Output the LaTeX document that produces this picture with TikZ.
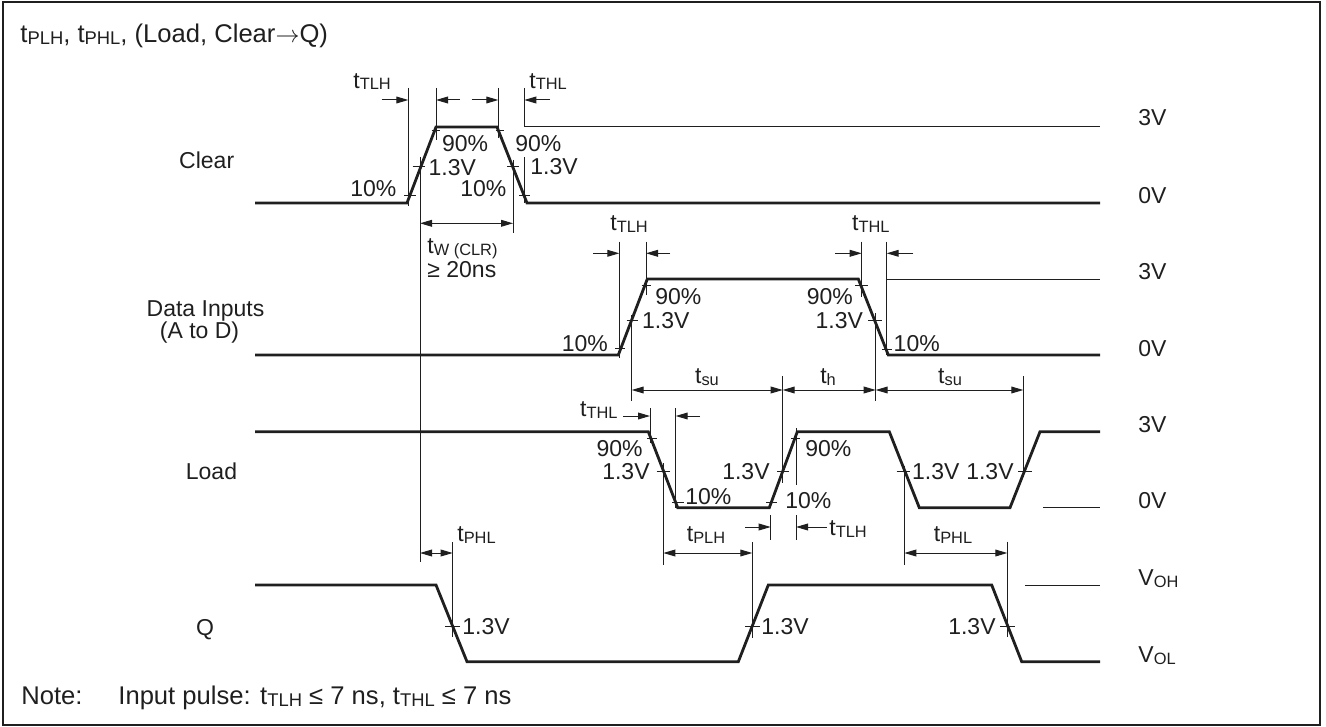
\documentclass[tikz,border=0pt]{standalone}
\usepackage{fontspec}
\setmainfont{Liberation Sans}
\usetikzlibrary{arrows.meta}
\definecolor{ink}{gray}{0.12}
\newcommand{\sbx}[1]{\raisebox{-0.9pt}{\fontsize{8.2}{9}\selectfont #1}}
\newcommand{\sbxb}[1]{\raisebox{-1pt}{\fontsize{9.2}{10}\selectfont #1}}
\begin{document}
\begin{tikzpicture}[x=0.5pt,y=-0.5pt,
  sig/.style={draw=ink,line width=1.4pt,line join=miter},
  ref/.style={draw=ink,line width=0.5pt},
  arr/.style={draw=ink,line width=0.5pt,-{Triangle[length=6pt,width=3.4pt]}},
  dbl/.style={draw=ink,line width=0.5pt,{Triangle[length=6pt,width=3.4pt]}-{Triangle[length=6pt,width=3.4pt]}},
  lbl/.style={inner sep=0pt,text=ink,font=\fontsize{11.5}{13.8}\selectfont,text height=8.2pt,text depth=0pt},
  big/.style={inner sep=0pt,text=ink,font=\fontsize{12.8}{15}\selectfont,text height=9.2pt,text depth=0pt},
]
\useasboundingbox (0,0) rectangle (1326,727);
\draw[ink,line width=1pt] (2.5,2.5) rectangle (1320,724.5);

% title and note
\node[big,anchor=west] (title) at (20,33) {t\sbxb{PLH}, t\sbxb{PHL}, (Load, Clear\(\rightarrow\)Q)};
\node[big,anchor=west] (note) at (21,695) {Note:};
\node[big,anchor=west] (notetxt) at (118,695) {Input pulse: t\sbxb{TLH} ≤ 7 ns, t\sbxb{THL} ≤ 7 ns};

% signal names
\node[lbl] (nclear) at (206.7,160) {Clear};
\node[lbl] (ndata) at (205.5,308) {Data Inputs};
\node[lbl] (ndata2) at (199.5,330) {(A to D)};
\node[lbl] (nload) at (211.5,471.7) {Load};
\node[lbl] (nq) at (205,627) {Q};

% level labels
\node[lbl,anchor=west] (l1) at (1138,117.5) {3V};
\node[lbl,anchor=west] (l2) at (1138,195) {0V};
\node[lbl,anchor=west] (l3) at (1138,271) {3V};
\node[lbl,anchor=west] (l4) at (1138,348) {0V};
\node[lbl,anchor=west] (l5) at (1138,424) {3V};
\node[lbl,anchor=west] (l6) at (1138,500) {0V};
\node[lbl,anchor=west] (l7) at (1138,577) {V\sbx{OH}};
\node[lbl,anchor=west] (l8) at (1138,654) {V\sbx{OL}};

%%%%%%%% CLEAR
\draw[sig] (255,203) -- (407,203) -- (436,127) -- (497,127) -- (527,203) -- (1100,203);
\draw[ref] (524.3,88) -- (524.3,127) -- (1100,127);
\draw[ref] (408.3,88) -- (408.3,206);
\draw[ref] (436,88) -- (436,140);
\draw[ref] (420,157) -- (420,562);
\draw[ref] (498.3,88) -- (498.3,138);
\draw[ref] (513,160) -- (513,233);
\draw[ref] (524,157) -- (524,203);
\draw[ref] (404,196) -- (416,196);
\draw[ref] (412.7,167) -- (425,167);
\draw[ref] (431.7,131) -- (440,131);
\draw[ref] (495.7,131) -- (504,131);
\draw[ref] (507,167) -- (519,167);
\draw[ref] (519,196) -- (530,196);
\draw[arr] (381.7,100) -- (408.3,100);
\draw[arr] (460,100) -- (436,100);
\draw[arr] (471.7,100) -- (498.3,100);
\draw[arr] (550,100) -- (524.3,100);
\node[lbl,anchor=west] at (353,80) {t\sbx{TLH}};
\node[lbl,anchor=west] at (529,80) {t\sbx{THL}};
\node[lbl,anchor=east] at (396.7,188.3) {10\%};
\node[lbl,anchor=west] at (428.3,167) {1.3V};
\node[lbl,anchor=west] at (441.7,143.3) {90\%};
\node[lbl,anchor=west] at (515,143.3) {90\%};
\node[lbl,anchor=west] at (530,166.7) {1.3V};
\node[lbl,anchor=east] at (506.7,188.3) {10\%};
\draw[dbl] (420,223.3) -- (513,223.3);
\node[lbl,anchor=west] at (427,245) {t\sbx{W (CLR)}};
\node[lbl,anchor=west] at (427,269) {≥ 20ns};

%%%%%%%% DATA
\draw[sig] (255,355) -- (618.3,355) -- (647.3,279) -- (858.3,279) -- (888.3,355) -- (1100,355);
\draw[ref] (886.7,241.7) -- (886.7,355);
\draw[ref] (886.7,279) -- (1100,279);
\draw[ref] (619.3,241.7) -- (619.3,358.3);
\draw[ref] (646,241.7) -- (646,295);
\draw[ref] (631.7,315) -- (631.7,400.7);
\draw[ref] (861.7,241.7) -- (861.7,296.7);
\draw[ref] (875.7,313) -- (875.7,400.7);
\draw[ref] (615,348.3) -- (625,348.3);
\draw[ref] (626.7,320) -- (638.3,320);
\draw[ref] (641.7,285) -- (650.7,285);
\draw[ref] (855,285) -- (868.3,285);
\draw[ref] (868.3,320) -- (881.7,320);
\draw[ref] (882,349.3) -- (892,349.3);
\draw[arr] (593.3,253.3) -- (619.3,253.3);
\draw[arr] (670,253.3) -- (646,253.3);
\draw[arr] (835,253.3) -- (861.7,253.3);
\draw[arr] (913.3,253.3) -- (886.7,253.3);
\node[lbl,anchor=west] at (610,222.7) {t\sbx{TLH}};
\node[lbl,anchor=west] at (851.7,222.7) {t\sbx{THL}};
\node[lbl,anchor=east] at (608.3,343.3) {10\%};
\node[lbl,anchor=west] at (641.7,320) {1.3V};
\node[lbl,anchor=west] at (655,296.7) {90\%};
\node[lbl,anchor=east] at (853.3,296.7) {90\%};
\node[lbl,anchor=east] at (863.3,320) {1.3V};
\node[lbl,anchor=west] at (893.3,343.3) {10\%};

% setup / hold
\draw[ref] (782.7,376) -- (782.7,483);
\draw[ref] (1023.3,376) -- (1023.3,476.7);
\draw[dbl] (631.7,390) -- (782.7,390);
\draw[dbl] (782.7,390) -- (875.7,390);
\draw[dbl] (875.7,390) -- (1023.3,390);
\node[lbl] at (707,375) {t\sbx{su}};
\node[lbl] at (828,375) {t\sbx{h}};
\node[lbl] at (950,375) {t\sbx{su}};

%%%%%%%% LOAD
\draw[sig] (255,431.7) -- (648.3,431.7) -- (677.7,507.7) -- (769.3,507.7) -- (797.3,431.7) -- (889.3,431.7) -- (919.3,507.7) -- (1010,507.7) -- (1040,431.7) -- (1100,431.7);
\draw[ref] (1043.3,507.7) -- (1100,507.7);
\draw[ref] (650,408) -- (650,443);
\draw[ref] (675.7,408) -- (675.7,508);
\draw[ref] (663.3,463) -- (663.3,565);
\draw[ref] (796,428) -- (796,485);
\draw[ref] (770.7,515) -- (770.7,540);
\draw[ref] (796,515) -- (796,540);
\draw[ref] (904.3,466) -- (904.3,565);
\draw[ref] (647,438.3) -- (657,438.3);
\draw[ref] (656.7,471.7) -- (670,471.7);
\draw[ref] (672.3,502.7) -- (684,502.7);
\draw[ref] (766,502.7) -- (777,502.7);
\draw[ref] (777,471.7) -- (789,471.7);
\draw[ref] (791,438.3) -- (800,438.3);
\draw[ref] (896.7,471.7) -- (910,471.7);
\draw[ref] (1018.3,471.7) -- (1031.7,471.7);
\draw[arr] (623.3,416) -- (650,416);
\draw[arr] (700,416) -- (675.7,416);
\draw[arr] (745,527) -- (770.7,527);
\draw[arr] (826.7,527) -- (796,527);
\node[lbl,anchor=east] at (618,408) {t\sbx{THL}};
\node[lbl,anchor=west] at (829,527) {t\sbx{TLH}};
\node[lbl,anchor=east] at (643,448) {90\%};
\node[lbl,anchor=east] at (650,471.7) {1.3V};
\node[lbl,anchor=west] at (685,496.7) {10\%};
\node[lbl,anchor=east] at (770,471.7) {1.3V};
\node[lbl,anchor=west] at (805,448.3) {90\%};
\node[lbl,anchor=west] at (785,500) {10\%};
\node[lbl,anchor=west] at (911.7,471.7) {1.3V};
\node[lbl,anchor=east] at (1014,471.7) {1.3V};

%%%%%%%% Q
\draw[sig] (255,585) -- (436,585) -- (467,661.7) -- (738.3,661.7) -- (768.3,585) -- (991.7,585) -- (1021.7,661.7) -- (1100,661.7);
\draw[ref] (1025,585) -- (1100,585);
\draw[ref] (452.7,542) -- (452.7,637);
\draw[ref] (752.3,542) -- (752.3,638);
\draw[ref] (1007.3,541.7) -- (1007.3,637.3);
\draw[ref] (445,626.7) -- (460,626.7);
\draw[ref] (745,626.7) -- (760,626.7);
\draw[ref] (1000,626.7) -- (1015,626.7);
\draw[dbl] (420,553) -- (452.7,553);
\draw[dbl] (663.3,553) -- (752.3,553);
\draw[dbl] (904.3,553) -- (1007.3,553);
\node[lbl,anchor=west] at (457,533) {t\sbx{PHL}};
\node[lbl] at (706,533) {t\sbx{PLH}};
\node[lbl] at (953,533) {t\sbx{PHL}};
\node[lbl,anchor=west] at (462,626.7) {1.3V};
\node[lbl,anchor=west] at (761,626.7) {1.3V};
\node[lbl,anchor=east] at (996,626.7) {1.3V};
\end{tikzpicture}
\end{document}
